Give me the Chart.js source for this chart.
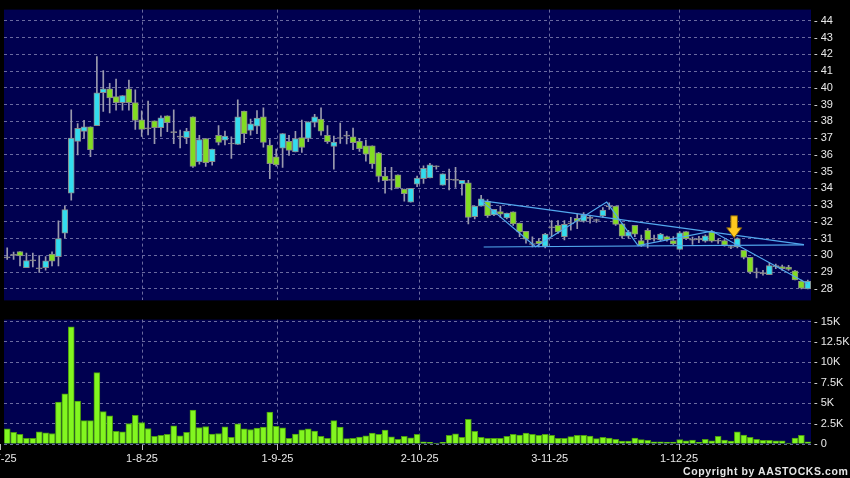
<!DOCTYPE html>
<html>
<head>
<meta charset="utf-8">
<script src="https://cdn.jsdelivr.net/npm/chart.js@4"></script>
<style>
  html, body { margin: 0; padding: 0; background: #000; }
  #wrap { position: relative; width: 850px; height: 478px; overflow: hidden; background: #000; }
  #price { position: absolute; left: 0; top: 0; }
  #vol { position: absolute; left: 0; top: 310px; }
  #copy { position: absolute; left: 683px; top: 465px; font: bold 10.5px "Liberation Sans", Arial, sans-serif;
          letter-spacing: 0.6px; color: #e6e6e6; white-space: nowrap; }
</style>
</head>
<body>
<div id="wrap">
  <canvas id="price" width="850" height="310"></canvas>
  <canvas id="vol" width="850" height="168"></canvas>
  <div id="copy">Copyright by AASTOCKS.com Ltd.</div>
</div>
<script>
// daily candles, oldest first (index 0 = first trading day shown)
const open = [29.85,30.0,30.23,29.27,29.67,29.2,29.27,30.08,29.92,31.33,
  33.71,36.81,37.4,37.67,37.75,39.71,39.94,39.48,39.12,39.94,
  39.13,38.1,37.56,38.04,37.62,38.33,37.33,37.06,37.02,38.27,
  35.58,36.98,35.6,37.17,36.88,36.65,36.63,38.62,37.46,37.71,
  38.27,36.58,35.88,36.4,36.81,36.17,37.04,36.98,37.94,38.13,
  37.17,36.5,36.98,37.12,37.08,36.81,36.54,36.54,36.12,34.73,
  34.48,34.81,33.96,33.17,34.25,34.58,34.62,35.29,34.19,34.5,
  34.48,34.27,34.33,32.31,32.94,33.23,32.42,32.62,32.23,32.6,
  31.92,31.44,30.65,30.85,30.54,31.65,31.79,31.12,31.88,32.21,
  32.04,32.21,32.08,32.35,32.9,32.94,31.88,31.15,31.79,30.88,
  31.5,30.96,30.92,31.12,30.88,30.35,31.42,30.9,30.94,30.84,
  31.42,30.84,30.88,30.47,30.51,30.3,29.88,28.95,28.91,28.85,
  29.33,29.33,29.3,29.07,28.47,28.0];
const high = [30.45,30.2,30.23,30.13,30.13,29.98,29.92,30.21,32.06,32.92,
  38.69,37.87,38.06,37.67,41.87,41.04,40.27,40.52,39.54,40.46,
  39.88,38.63,39.21,38.04,38.33,38.33,38.69,37.48,37.58,38.27,
  37.17,36.98,36.35,37.75,37.42,37.08,39.29,38.62,38.13,38.65,
  38.81,36.92,36.35,37.27,37.17,37.4,38.08,37.98,38.42,38.81,
  37.75,37.12,37.9,37.4,37.6,36.98,36.88,36.54,36.15,35.25,
  35.25,34.81,33.96,34.0,34.73,35.35,35.5,35.35,34.87,35.15,
  35.25,34.48,34.48,32.94,33.58,33.33,32.75,32.94,32.52,32.6,
  31.92,31.44,31.1,31.0,31.31,32.08,32.08,32.08,32.27,32.46,
  32.56,32.37,32.17,32.85,33.13,32.94,31.88,31.5,31.79,31.21,
  31.6,31.21,31.31,31.15,31.12,31.42,31.42,31.09,31.13,31.23,
  31.48,30.98,30.94,30.59,31.04,30.3,29.88,29.24,29.1,29.55,
  29.48,29.42,29.4,29.1,28.53,28.53];
const low = [29.75,29.75,29.37,29.27,29.31,28.98,29.12,29.37,29.37,31.04,
  33.29,36.0,37.0,35.9,37.75,38.6,38.5,38.67,38.67,38.67,
  37.52,37.1,37.19,36.67,37.1,37.38,36.67,36.42,36.67,35.25,
  35.44,35.31,35.38,36.6,36.6,35.79,36.63,36.73,37.17,37.27,
  36.46,34.58,35.33,35.25,35.96,36.17,36.15,36.79,37.67,37.17,
  36.69,35.15,36.69,36.65,36.31,36.21,35.63,35.19,34.38,33.71,
  33.9,34.0,33.23,33.17,34.1,34.29,34.62,35.15,34.19,33.9,
  34.06,33.6,31.88,32.17,32.94,32.27,32.37,32.27,32.17,31.79,
  31.12,30.73,30.5,30.5,30.44,31.12,31.31,30.92,31.5,31.6,
  31.98,31.92,31.96,32.27,32.75,31.79,31.02,31.02,31.12,30.54,
  30.44,30.85,30.85,30.85,30.63,30.35,30.94,30.65,30.75,30.78,
  30.78,30.71,30.55,30.4,30.45,29.78,28.9,28.65,28.81,28.85,
  29.2,29.1,29.1,28.53,28.0,28.0];
const close = [29.85,30.0,29.96,29.69,29.67,29.2,29.67,29.65,31.0,32.73,
  37.0,37.58,37.67,36.31,39.71,39.94,39.4,39.12,39.54,39.12,
  38.06,37.52,37.56,37.62,38.21,37.92,37.33,37.06,37.42,35.31,
  36.92,35.54,36.35,36.75,37.12,36.65,38.27,37.27,37.85,38.19,
  36.75,35.48,35.4,37.27,36.27,36.98,36.44,37.98,38.27,37.42,
  36.79,36.77,36.98,37.12,36.73,36.37,36.04,35.46,34.71,34.46,
  34.48,34.04,33.69,34.0,34.62,35.19,35.4,35.29,34.87,34.5,
  34.48,34.48,32.27,32.94,33.38,32.37,32.75,32.46,32.52,31.88,
  31.4,30.96,30.65,30.7,31.27,31.65,31.4,31.85,31.88,32.02,
  32.42,32.21,32.08,32.71,32.9,31.85,31.15,31.4,31.27,30.58,
  30.92,30.96,31.27,30.92,30.69,31.35,31.0,30.9,30.94,31.17,
  30.84,30.84,30.61,30.47,31.0,29.88,29.0,28.95,28.91,29.39,
  29.33,29.2,29.16,28.53,28.04,28.47];
const volume = [1860,1420,1170,690,690,1500,1380,1290,5140,6150,
  14360,5260,2870,2870,8740,3960,3440,1540,1500,2510,
  3520,2630,1900,930,1050,1170,2230,1010,1420,4170,
  2020,2140,1210,1290,2100,810,2470,1860,1780,1940,
  2060,3920,2180,1980,690,1210,1740,1860,1580,930,
  690,2870,2060,650,690,850,1010,1340,1170,1700,
  890,570,930,770,1170,280,200,120,200,1050,
  1250,810,3030,1540,810,690,690,690,930,1170,
  1090,1340,1170,1050,1170,1050,690,690,900,1050,
  1050,970,650,810,730,570,360,360,730,530,
  450,280,280,240,240,530,400,490,200,570,
  400,930,490,360,1500,1090,810,570,450,450,
  400,400,120,730,1050,280];

// date ticks (position in candle index units)
const xTickPos = [-1, 21.05, 42.2, 64.4, 84.7, 104.9];
const xTickLabels = ['2-7-25', '1-8-25', '1-9-25', '2-10-25', '3-11-25', '1-12-25'];
const priceTicks = [28,29,30,31,32,33,34,35,36,37,38,39,40,41,42,43,44];
const volTicks = [0, 2500, 5000, 7500, 10000, 12500, 15000];
const volTickLabels = ['0', '2.5K', '5K', '7.5K', '10K', '12.5K', '15K'];

// drawn trend lines (index, price)
const zigzagX = [74, 82.5, 93.6, 98.5, 110, 125];
const zigzagY = [33.27, 30.52, 33.18, 30.58, 31.45, 28.3];
const upperX = [74, 124.4];
const upperY = [33.27, 30.64];
const supportX = [74.4, 124.4];
const supportY = [30.5, 30.62];
const arrowAt = [113.5, 31.05];

const NAVY = '#000050';
const GRID = '#6a6aa0';
const UP = '#33dcee';
const DOWN = '#82dc22';
const FLAT = '#8c8c8c';
const LINE = '#52a8ee';
const TXT = '#e8e8e8';
const FONT = { family: '"Liberation Sans", Arial, sans-serif', size: 11 };
const N = open.length;

const panelBg = {
  id: 'panelBg',
  beforeDraw(chart) {
    const { ctx, chartArea: a } = chart;
    ctx.save();
    ctx.fillStyle = '#000';
    ctx.fillRect(0, 0, chart.width, chart.height);
    ctx.fillStyle = NAVY;
    ctx.fillRect(a.left, a.top, a.right - a.left, a.bottom - a.top);
    ctx.restore();
  }
};

const arrowMark = {
  id: 'arrowMark',
  afterDatasetsDraw(chart) {
    const { ctx, scales } = chart;
    const x = scales.x.getPixelForValue(arrowAt[0]);
    const tip = scales.y.getPixelForValue(arrowAt[1]);
    ctx.save();
    ctx.beginPath();
    ctx.moveTo(x, tip);
    ctx.lineTo(x - 7.5, tip - 10);
    ctx.lineTo(x - 3.3, tip - 10);
    ctx.lineTo(x - 3.3, tip - 22);
    ctx.lineTo(x + 3.3, tip - 22);
    ctx.lineTo(x + 3.3, tip - 10);
    ctx.lineTo(x + 7.5, tip - 10);
    ctx.closePath();
    ctx.fillStyle = '#ffc81e';
    ctx.fill();
    ctx.strokeStyle = '#7a5a10';
    ctx.lineWidth = 1;
    ctx.stroke();
    ctx.restore();
  }
};

function pts(xs, ys) {
  return xs.map((x, i) => ({ x, y: ys[i] }));
}

function trend(xs, ys) {
  return {
    type: 'line', data: pts(xs, ys), borderColor: LINE, borderWidth: 1.2,
    pointRadius: 0, fill: false, tension: 0, order: 0
  };
}

function xAxis(showLabels) {
  return {
    type: 'linear', min: -0.5, max: N - 0.5, offset: false,
    afterBuildTicks: s => { s.ticks = xTickPos.map(v => ({ value: v })); },
    afterFit: s => {
      s.height = showLabels ? 34 : 0;
      s.paddingLeft = 0;
      s.paddingRight = 0;
    },
    border: { display: false, dash: [3, 3] },
    grid: {
      offset: false,
      color: c => (c.tick && c.tick.value < 0 ? 'rgba(0,0,0,0)' : GRID),
      drawTicks: showLabels, tickLength: 6,
      tickColor: '#bbbbbb', tickBorderDash: []
    },
    ticks: {
      display: showLabels, autoSkip: false, maxRotation: 0, padding: 2,
      color: TXT, font: FONT,
      callback: (v, i) => xTickLabels[i]
    }
  };
}

function yAxis(min, max, tickVals, labels) {
  return {
    type: 'linear', position: 'right', min, max,
    afterBuildTicks: s => { s.ticks = tickVals.map(v => ({ value: v })); },
    afterFit: s => { s.width = 39; },
    border: { display: false, dash: [3, 3] },
    grid: { color: GRID, drawTicks: false },
    ticks: {
      padding: 3, color: TXT, font: FONT,
      callback: (v, i) => '- ' + labels[i]
    }
  };
}

const idx = open.map((o, i) => i);

new Chart(document.getElementById('price'), {
  type: 'bar',
  data: {
    datasets: [
      trend(zigzagX, zigzagY),
      trend(upperX, upperY),
      trend(supportX, supportY),
      {
        data: idx.map(i => ({ x: i, y: [Math.min(open[i], close[i]), Math.max(open[i], close[i])] })),
        backgroundColor: idx.map(i => close[i] > open[i] ? UP : close[i] < open[i] ? DOWN : FLAT),
        borderColor: '#8a8a8a', borderWidth: 1, borderSkipped: false,
        barThickness: 6, minBarLength: 1, grouped: false, order: 1
      },
      {
        data: idx.map(i => ({ x: i, y: [low[i], high[i]] })),
        backgroundColor: '#9a9aae', barThickness: 1, grouped: false, order: 2
      }
    ]
  },
  options: {
    responsive: false, animation: false,
    layout: { padding: { left: 4, top: 5, right: 0, bottom: 4 } },
    plugins: { legend: { display: false }, tooltip: { enabled: false } },
    scales: {
      x: xAxis(false),
      y: yAxis(27.31, 44.675, priceTicks, priceTicks.map(String))
    }
  },
  plugins: [panelBg, arrowMark]
});

new Chart(document.getElementById('vol'), {
  type: 'bar',
  data: {
    datasets: [{
      data: idx.map(i => ({ x: i, y: volume[i] })),
      backgroundColor: '#82f620', borderColor: '#4a9a10', borderWidth: 1,
      barThickness: 6, grouped: false
    }]
  },
  options: {
    responsive: false, animation: false,
    layout: { padding: { left: 4, top: 8, right: 0, bottom: 0 } },
    plugins: { legend: { display: false }, tooltip: { enabled: false } },
    scales: {
      x: xAxis(true),
      y: yAxis(0, 15240, volTicks, volTickLabels)
    }
  },
  plugins: [panelBg]
});
</script>
</body>
</html>
